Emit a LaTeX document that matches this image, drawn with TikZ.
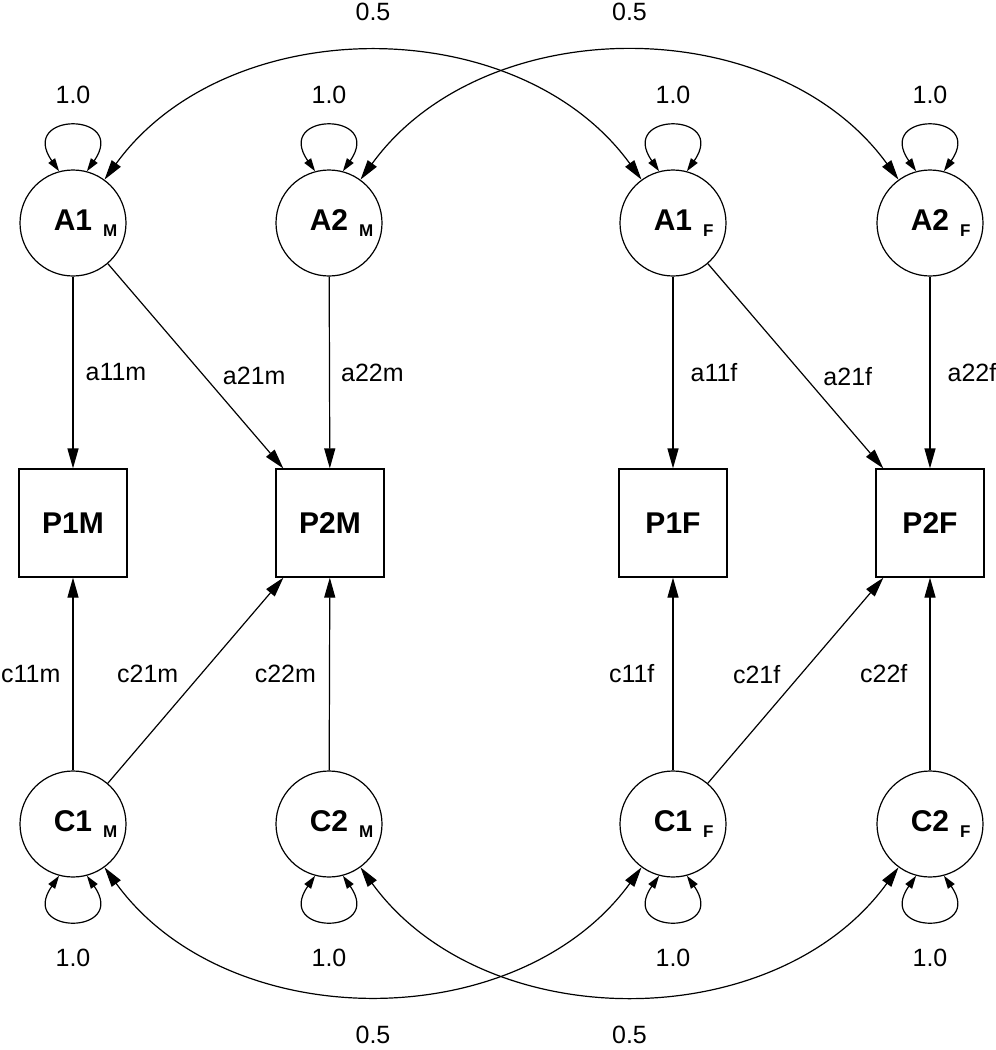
\documentclass[tikz,border=0pt]{standalone}
\usepackage{fontspec}
\setmainfont{Liberation Sans}
\usetikzlibrary{arrows.meta, positioning}

% sex subscript hanging right of the factor name
\newcommand{\sexsub}[1]{\rlap{\hspace{5.5pt}\raisebox{-3pt}{\fontsize{8.5}{9}\selectfont\bfseries #1}}}

\begin{document}
\begin{tikzpicture}[x=0.5pt, y=-0.5pt, line width=0.6pt,
  every node/.style={font=\fontsize{12.5}{15}\selectfont},
  latent/.style={draw, circle, minimum size=53pt, inner sep=0pt, font=\fontsize{15}{18}\selectfont\bfseries},
  manifest/.style={draw, rectangle, minimum size=54pt, inner sep=0pt, font=\fontsize{15}{18}\selectfont\bfseries},
  path/.style={-{Triangle[length=10pt,width=5.5pt]}},
  cov/.style={{Triangle[length=10pt,width=5.5pt]}-{Triangle[length=10pt,width=5.5pt]}},
  var/.style={{Triangle[length=6.5pt,width=4pt]}-{Triangle[length=6.5pt,width=4pt]}, distance=36.5pt},
  coef/.style={inner sep=0pt}]
\useasboundingbox (0,0) rectangle (996,1050);

% Additive genetic factors
\node[latent] (A1M) at (73,223) {A1\sexsub{M}};
\node[latent] (A2M) at (329,223) {A2\sexsub{M}};
\node[latent] (A1F) at (673,223) {A1\sexsub{F}};
\node[latent] (A2F) at (930,223) {A2\sexsub{F}};
% Phenotypes
\node[manifest] (P1M) at (73,523) {P1M};
\node[manifest] (P2M) at (330,523) {P2M};
\node[manifest] (P1F) at (673,523) {P1F};
\node[manifest] (P2F) at (930,523) {P2F};
% Common environment factors
\node[latent] (C1M) at (73,824) {C1\sexsub{M}};
\node[latent] (C2M) at (329,824) {C2\sexsub{M}};
\node[latent] (C1F) at (673,824) {C1\sexsub{F}};
\node[latent] (C2F) at (930,824) {C2\sexsub{F}};

% Variances
\foreach \f in {A1M, A2M, A1F, A2F}
  \draw[var] (\f.105) to[out=125, in=55] node[coef, above=11pt] {1.0} (\f.75);
\foreach \f in {C1M, C2M, C1F, C2F}
  \draw[var] (\f.-105) to[out=-125, in=-55] node[coef, below=14pt] {1.0} (\f.-75);

% Paths from A
\draw[path] (A1M) -- node[coef, right=6pt] {a11m} (P1M);
\draw[path] (A1M) -- node[coef, pos=0.55, right=9pt] {a21m} (P2M);
\draw[path] (A2M) -- node[coef, right=5.5pt] {a22m} (P2M);
\draw[path] (A1F) -- node[coef, right=8.5pt] {a11f} (P1F);
\draw[path] (A1F) -- node[coef, pos=0.55, right=9.25pt] {a21f} (P2F);
\draw[path] (A2F) -- node[coef, right=8.5pt] {a22f} (P2F);

% Paths from C
\draw[path] (C1M) -- node[coef, left=6pt] {c11m} (P1M);
\draw[path] (C1M) -- node[coef, pos=0.53, left=11pt] {c21m} (P2M);
\draw[path] (C2M) -- node[coef, left=6.5pt] {c22m} (P2M);
\draw[path] (C1F) -- node[coef, left=9pt] {c11f} (P1F);
\draw[path] (C1F) -- node[coef, pos=0.53, left=10pt] {c21f} (P2F);
\draw[path] (C2F) -- node[coef, left=11pt] {c22f} (P2F);

% Cross-sex covariances
\draw[cov] (A1M) to[out=54, in=126] node[coef, above=15.5pt] {0.5} (A1F);
\draw[cov] (A2M) to[out=54, in=126] node[coef, above=15.5pt] {0.5} (A2F);
\draw[cov] (C1M) to[out=-54, in=-126] node[coef, below=15.5pt] {0.5} (C1F);
\draw[cov] (C2M) to[out=-54, in=-126] node[coef, below=15.5pt] {0.5} (C2F);
\end{tikzpicture}
\end{document}
